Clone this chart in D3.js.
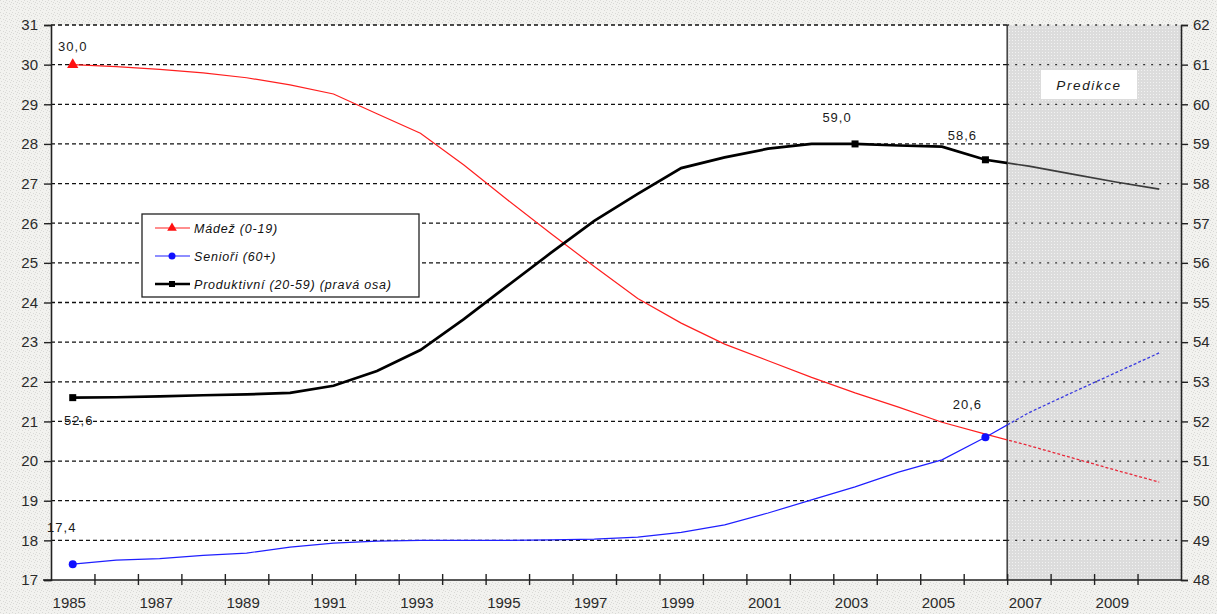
<!DOCTYPE html>
<html>
<head>
<meta charset="utf-8">
<script src="https://cdn.jsdelivr.net/npm/d3@7"></script>
<style>
  body { margin: 0; background: #fff; }
  svg { display: block; }
  text { font-family: "Liberation Sans", Arial, sans-serif; }
</style>
</head>
<body>
<svg id="chart" width="1217" height="614"></svg>
<script>
// Age structure of the population (%), 1985–2010; 2007 onwards is a projection
const years = [1985, 1986, 1987, 1988, 1989, 1990, 1991, 1992, 1993, 1994, 1995, 1996, 1997,
               1998, 1999, 2000, 2001, 2002, 2003, 2004, 2005, 2006, 2007, 2008, 2009, 2010];

// Mládež (0-19), left axis
const madez = [30.0, 29.95, 29.88, 29.79, 29.67, 29.49, 29.26, 28.76, 28.27, 27.47, 26.59, 25.74, 24.91,
               24.1, 23.48, 22.95, 22.53, 22.11, 21.72, 21.36, 20.98, 20.68, 20.39, 20.08, 19.77, 19.47];

// Senioři (60+), left axis
const seniori = [17.4, 17.5, 17.54, 17.62, 17.68, 17.83, 17.93, 17.98, 18.0, 18.0, 18.0, 18.01, 18.03,
                 18.08, 18.2, 18.39, 18.69, 19.02, 19.35, 19.72, 20.03, 20.6, 21.22, 21.73, 22.23, 22.73];

// Produktivní (20-59), right axis
const produktivni = [52.6, 52.61, 52.63, 52.66, 52.68, 52.72, 52.9, 53.27, 53.8, 54.58, 55.42, 56.25, 57.06,
                     57.74, 58.39, 58.66, 58.88, 59.0, 59.0, 58.96, 58.93, 58.6, 58.44, 58.24, 58.04, 57.86];

const predictionStart = 2007;
const yearLabels = [1985, 1987, 1989, 1991, 1993, 1995, 1997, 1999, 2001, 2003, 2005, 2007, 2009];
const leftTicks = [17, 18, 19, 20, 21, 22, 23, 24, 25, 26, 27, 28, 29, 30, 31];
const rightTicks = [48, 49, 50, 51, 52, 53, 54, 55, 56, 57, 58, 59, 60, 61, 62];

// Labelled points: [series, year, text]
const pointLabels = [
  ["madez", 1985, "30,0"],
  ["produktivni", 1985, "52,6"],
  ["seniori", 1985, "17,4"],
  ["produktivni", 2003, "59,0"],
  ["produktivni", 2006, "58,6"],
  ["seniori", 2006, "20,6"]
];

const svg = d3.select("#chart");
const W = 1217, H = 614;
const plot = { left: 51, right: 1181, top: 25, bottom: 580 };

const x = d3.scaleLinear()
  .domain([years[0] - 0.5, years[years.length - 1] + 0.5])
  .range([plot.left, plot.right]);
const yL = d3.scaleLinear().domain([17, 31]).range([plot.bottom, plot.top]);
const yR = d3.scaleLinear().domain([48, 62]).range([plot.bottom, plot.top]);
const xSplit = x(predictionStart - 0.5);

const defs = svg.append("defs");

// speckled page background
const bgPat = defs.append("pattern").attr("id", "paper")
  .attr("width", 6).attr("height", 6).attr("patternUnits", "userSpaceOnUse");
bgPat.append("rect").attr("width", 6).attr("height", 6).attr("fill", "#f2f2ef");
[[0, 0], [3, 1], [1, 3], [4, 4], [5, 2]].forEach(([a, b]) =>
  bgPat.append("rect").attr("x", a).attr("y", b).attr("width", 1).attr("height", 1).attr("fill", "#d9d9d6"));

// dotted grey fill of the projection zone
const prPat = defs.append("pattern").attr("id", "predfill")
  .attr("width", 3).attr("height", 3).attr("patternUnits", "userSpaceOnUse");
prPat.append("rect").attr("width", 3).attr("height", 3).attr("fill", "#dcdcdc");
prPat.append("rect").attr("x", 1).attr("y", 1).attr("width", 1).attr("height", 1).attr("fill", "#f2f2f2");

defs.append("clipPath").attr("id", "clipHist").append("rect")
  .attr("x", plot.left).attr("y", 0).attr("width", xSplit - plot.left).attr("height", H);
defs.append("clipPath").attr("id", "clipPred").append("rect")
  .attr("x", xSplit).attr("y", 0).attr("width", plot.right - xSplit).attr("height", H);

svg.append("rect").attr("width", W).attr("height", H).attr("fill", "url(#paper)");
svg.append("rect").attr("x", plot.left).attr("y", plot.top)
  .attr("width", plot.right - plot.left).attr("height", plot.bottom - plot.top).attr("fill", "#fff");
svg.append("rect").attr("x", xSplit).attr("y", plot.top)
  .attr("width", plot.right - xSplit).attr("height", plot.bottom - plot.top).attr("fill", "url(#predfill)");

// gridlines
const grid = svg.append("g");
leftTicks.slice(1).forEach(v => {
  grid.append("line").attr("x1", plot.left).attr("x2", xSplit)
    .attr("y1", yL(v)).attr("y2", yL(v))
    .attr("stroke", "#111").attr("stroke-width", 1.3).attr("stroke-dasharray", "4,3");
  grid.append("line").attr("x1", xSplit).attr("x2", plot.right)
    .attr("y1", yL(v)).attr("y2", yL(v))
    .attr("stroke", "#333").attr("stroke-width", 1.3).attr("stroke-dasharray", "2,6");
});

// projection boundary
svg.append("line").attr("x1", xSplit).attr("x2", xSplit)
  .attr("y1", plot.top).attr("y2", plot.bottom).attr("stroke", "#222").attr("stroke-width", 1.3);

// axes
const axisLeft = svg.append("g").attr("transform", `translate(${plot.left},0)`)
  .call(d3.axisLeft(yL).tickValues(leftTicks).tickSize(7).tickPadding(6).tickFormat(d3.format("d")));
const axisRight = svg.append("g").attr("transform", `translate(${plot.right},0)`)
  .call(d3.axisRight(yR).tickValues(rightTicks).tickSize(7).tickPadding(5).tickFormat(d3.format("d")));
const boundaries = years.slice(1).map(y => y - 0.5);
const axisBottom = svg.append("g").attr("transform", `translate(0,${plot.bottom})`)
  .call(d3.axisBottom(x).tickValues(boundaries).tickSize(5).tickFormat(""));
axisBottom.selectAll(".tick line").attr("y1", -6);
svg.append("g").attr("transform", `translate(0,${plot.bottom})`)
  .call(d3.axisBottom(x).tickValues(yearLabels).tickSize(0).tickPadding(17).tickFormat(d3.format("d")))
  .call(g => g.select(".domain").remove())
  .selectAll("text").attr("dx", -4);

[axisLeft, axisRight, axisBottom].forEach(g => {
  g.select(".domain").attr("stroke", "#222").attr("stroke-width", 1.6);
  g.selectAll(".tick line").attr("stroke", "#222").attr("stroke-width", 1.4);
});
axisBottom.select(".domain").attr("d", `M${plot.left - 8},0H${plot.right}`);
svg.selectAll("g text").attr("fill", "#2a2a2a").attr("font-size", 15)
  .attr("font-family", "\"Liberation Sans\", Arial, sans-serif");

// series
const rows = years.map((yr, i) => ({ yr, madez: madez[i], seniori: seniori[i], produktivni: produktivni[i] }));
const series = [
  { key: "madez", scale: yL, color: "#ff1f1f", width: 1.2, predColor: "#e8283a", predWidth: 1.3, dash: "3,2" },
  { key: "seniori", scale: yL, color: "#1f1fff", width: 1.2, predColor: "#3a3ae0", predWidth: 1.3, dash: "3,2" },
  { key: "produktivni", scale: yR, color: "#000", width: 2.7, predColor: "#3c3c3c", predWidth: 1.7, dash: null }
];

const lines = svg.append("g");
series.forEach(s => {
  const gen = d3.line().x(d => x(d.yr)).y(d => s.scale(d[s.key]));
  lines.append("path").datum(rows).attr("d", gen).attr("fill", "none")
    .attr("stroke", s.color).attr("stroke-width", s.width).attr("clip-path", "url(#clipHist)");
  const p = lines.append("path").datum(rows).attr("d", gen).attr("fill", "none")
    .attr("stroke", s.predColor).attr("stroke-width", s.predWidth).attr("clip-path", "url(#clipPred)");
  if (s.dash) p.attr("stroke-dasharray", s.dash);
});

// markers
const byKey = Object.fromEntries(series.map(s => [s.key, s]));
const marker = svg.append("g");
function drawMarker(key, yr) {
  const s = byKey[key];
  const i = years.indexOf(yr);
  const px = x(yr), py = s.scale(rows[i][key]);
  if (key === "madez") {
    marker.append("path").attr("d", d3.symbol(d3.symbolTriangle, 55)())
      .attr("transform", `translate(${px},${py})`).attr("fill", "#ff1010");
  } else if (key === "seniori") {
    marker.append("circle").attr("cx", px).attr("cy", py).attr("r", 4).attr("fill", "#1010ff");
  } else {
    marker.append("rect").attr("x", px - 3.5).attr("y", py - 3.5).attr("width", 7).attr("height", 7).attr("fill", "#000");
  }
}
drawMarker("madez", 1985);
drawMarker("seniori", 1985);
drawMarker("seniori", 2006);
drawMarker("produktivni", 1985);
drawMarker("produktivni", 2003);
drawMarker("produktivni", 2006);

// value labels
const labelOffset = {
  "madez-1985": [0, -14], "produktivni-1985": [6, 27], "seniori-1985": [-11, -32],
  "produktivni-2003": [-18, -22], "produktivni-2006": [-23, -20], "seniori-2006": [-18, -28]
};
pointLabels.forEach(([key, yr, txt]) => {
  const s = byKey[key];
  const i = years.indexOf(yr);
  const [dx, dy] = labelOffset[`${key}-${yr}`];
  svg.append("text").attr("x", x(yr) + dx).attr("y", s.scale(rows[i][key]) + dy)
    .attr("text-anchor", "middle").attr("font-size", 13).attr("letter-spacing", 1)
    .attr("fill", "#1a1a1a").text(txt);
});

// projection caption
svg.append("rect").attr("x", 1041).attr("y", 70).attr("width", 96).attr("height", 29).attr("fill", "#fff");
svg.append("text").attr("x", 1089).attr("y", 90).attr("text-anchor", "middle")
  .attr("font-size", 13.5).attr("font-style", "italic").attr("letter-spacing", 1.6)
  .attr("fill", "#1a1a1a").text("Predikce");

// legend
const legendItems = [
  { key: "madez", label: "Mádež (0-19)" },
  { key: "seniori", label: "Senioři (60+)" },
  { key: "produktivni", label: "Produktivní (20-59) (pravá osa)" }
];
const lg = svg.append("g").attr("transform", "translate(142,214)");
lg.append("rect").attr("width", 277).attr("height", 83).attr("fill", "#fff")
  .attr("stroke", "#222").attr("stroke-width", 1.3);
legendItems.forEach((it, k) => {
  const s = byKey[it.key];
  const cy = 14 + k * 28;
  lg.append("line").attr("x1", 13).attr("x2", 48).attr("y1", cy).attr("y2", cy)
    .attr("stroke", s.color).attr("stroke-width", it.key === "produktivni" ? 2.6 : 1.2);
  if (it.key === "madez") {
    lg.append("path").attr("d", d3.symbol(d3.symbolTriangle, 40)()).attr("transform", `translate(30,${cy})`).attr("fill", "#ff1010");
  } else if (it.key === "seniori") {
    lg.append("circle").attr("cx", 30).attr("cy", cy).attr("r", 3.5).attr("fill", "#1010ff");
  } else {
    lg.append("rect").attr("x", 27).attr("y", cy - 3).attr("width", 6).attr("height", 6).attr("fill", "#000");
  }
  lg.append("text").attr("x", 52).attr("y", cy + 4.5).attr("font-size", 12.5)
    .attr("font-style", "italic").attr("letter-spacing", 0.8).attr("fill", "#111").text(it.label);
});
</script>
</body>
</html>
